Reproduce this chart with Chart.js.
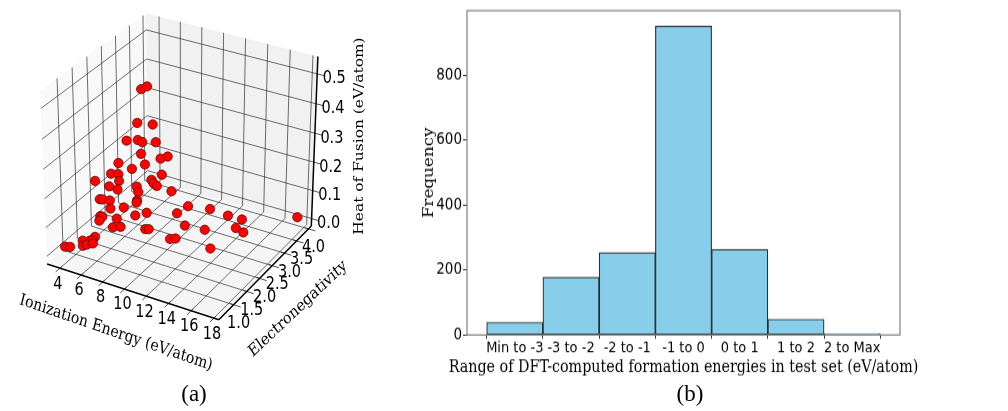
<!DOCTYPE html>
<html>
<head>
<meta charset="utf-8">
<script src="https://cdn.jsdelivr.net/npm/chart.js@4.4.1/dist/chart.umd.min.js"></script>
<style>
  body { margin: 0; background: #fff; width: 1008px; height: 411px; overflow: hidden; position: relative; }
  #scatter3d { position: absolute; left: 0; top: 0; }
  /* the reference figure is a little taller than it is wide, so the histogram is drawn flat and stretched */
  #hist { position: absolute; left: 400px; top: 0; transform: scaleY(1.17); transform-origin: 0 0; }
  .cap { position: absolute; font-family: "Liberation Serif"; font-size: 23px; line-height: 1; transform: translateX(-50%); color: #000; }
</style>
</head>
<body>
<canvas id="scatter3d" width="380" height="411"></canvas>
<canvas id="hist" width="560" height="329"></canvas>
<div class="cap" style="left:194px; top:382px">(a)</div>
<div class="cap" style="left:690px; top:382px">(b)</div>
<script>
// (a) element properties, one entry per element
const ionizationEnergy = [7.77, 8.45, 6.51, 8.45, 6.52, 7.48, 7.21, 8.15, 7.37, 8.95,
  8.39, 6.34, 7.31, 6.77, 8.37, 6.47, 6.53, 5.73, 7.83, 6.64,
  5.68, 6.65, 7.80, 8.00, 6.26, 6.74, 8.99, 5.36, 5.57, 5.92,
  6.87, 6.77, 5.67, 6.74, 9.78, 11.76, 5.35, 5.54, 7.02, 7.61,
  9.33, 12.89, 13.55, 17.42, 5.41, 6.22, 5.17, 5.48, 5.42, 5.56,
  5.73, 6.22, 7.90, 8.14, 9.97, 11.90, 13.75, 14.60, 10.39, 10.31,
  4.89, 5.30, 3.73, 4.09, 13.48, 5.62];
const electronegativity = [1.98, 1.92, 2.31, 2.11, 1.92, 1.95, 2.21, 2.33, 2.10, 2.45,
  2.41, 1.69, 2.26, 2.00, 2.46, 1.38, 1.61, 1.10, 2.29, 1.59,
  1.60, 2.21, 2.38, 2.42, 1.67, 2.23, 2.57, 1.38, 1.40, 1.52,
  2.13, 2.15, 1.63, 1.70, 2.88, 2.91, 1.39, 1.39, 2.00, 2.19,
  2.64, 3.14, 3.42, 3.98, 1.33, 1.64, 0.83, 1.14, 0.98, 1.01,
  1.68, 1.77, 2.02, 2.05, 2.68, 2.65, 3.09, 3.02, 1.95, 2.19,
  0.93, 0.92, 0.74, 0.78, 2.21, 1.01];
const heatOfFusion = [0.50, 0.52, 0.35, 0.38, 0.32, 0.33, 0.30, 0.30, 0.27, 0.25,
  0.24, 0.26, 0.22, 0.22, 0.18, 0.25, 0.23, 0.24, 0.17, 0.21,
  0.18, 0.14, 0.15, 0.14, 0.17, 0.12, 0.12, 0.15, 0.15, 0.14,
  0.10, 0.09, 0.10, 0.11, 0.05, 0.06, 0.09, 0.09, 0.06, 0.06,
  0.04, 0.03, 0.00, 0.005, 0.08, 0.07, 0.05, 0.04, 0.04, 0.04,
  0.03, 0.03, 0.02, 0.02, 0.00, 0.01, 0.00, 0.00, 0.02, 0.00,
  0.02, 0.03, 0.02, 0.02, 0.00, 0.03];
const ieTicks = [4, 6, 8, 10, 12, 14, 16, 18];
const enTicks = [1.0, 1.5, 2.0, 2.5, 3.0, 3.5, 4.0];
const hofTicks = [0.0, 0.1, 0.2, 0.3, 0.4, 0.5];

// (b) histogram of formation energies
const energyRanges = ['Min to -3', '-3 to -2', '-2 to -1', '-1 to 0', '0 to 1', '1 to 2', '2 to Max'];
const frequency = [39, 178, 254, 952, 264, 49, 4];
const freqTicks = [0, 200, 400, 600, 800];

// 3d view like matplotlib's default (elev 30, azim -60, dist 10)
const ieLim = [2.78, 18.43], enLim = [0.45, 4.12], hofLim = [-0.027, 0.557];
const elev = 30, azim = -60, dist = 10;
const view = { cx: 181, cy: 160, sx: 2040, sy: 2030 };
const STRETCH = 1.17; // vertical stretch of the text in the reference

function project(x, y, z) {
  const q = [
    (x - ieLim[0]) / (ieLim[1] - ieLim[0]) - 0.5,
    (y - enLim[0]) / (enLim[1] - enLim[0]) - 0.5,
    (z - hofLim[0]) / (hofLim[1] - hofLim[0]) - 0.5
  ];
  const e = elev * Math.PI / 180, a = azim * Math.PI / 180;
  const n = [Math.cos(e) * Math.cos(a), Math.cos(e) * Math.sin(a), Math.sin(e)];
  const un = Math.hypot(n[0], n[1]);
  const u = [-n[1] / un, n[0] / un, 0];
  const v = [n[1] * u[2] - n[2] * u[1], n[2] * u[0] - n[0] * u[2], n[0] * u[1] - n[1] * u[0]];
  const dot = (p, r) => p[0] * r[0] + p[1] * r[1] + p[2] * r[2];
  const w = dist - dot(n, q);
  return { x: dot(u, q) / w, y: dot(v, q) / w };
}

// text drawn with the same vertical stretch; deg is the angle seen on screen
function stretchedText(ctx, text, x, y, deg) {
  const r = deg * Math.PI / 180;
  const a = Math.atan2(Math.sin(r), Math.cos(r) * STRETCH);
  ctx.save();
  ctx.translate(x, y);
  ctx.scale(1, STRETCH);
  ctx.rotate(a);
  ctx.fillText(text, 0, 0);
  ctx.restore();
}

const axes3d = {
  id: 'axes3d',
  beforeDatasetsDraw(chart) {
    const ctx = chart.ctx;
    const P = (x, y, z) => {
      const p = project(x, y, z);
      return [chart.scales.x.getPixelForValue(p.x), chart.scales.y.getPixelForValue(p.y)];
    };
    const [x0, x1] = ieLim, [y0, y1] = enLim, [z0, z1] = hofLim;
    const xr = x1 - x0, yr = y1 - y0;

    ctx.save();
    const pane = (pts, fill) => {
      ctx.beginPath();
      pts.forEach((p, i) => { const s = P(...p); i ? ctx.lineTo(...s) : ctx.moveTo(...s); });
      ctx.closePath();
      ctx.fillStyle = fill;
      ctx.fill();
    };
    pane([[x0, y0, z0], [x1, y0, z0], [x1, y1, z0], [x0, y1, z0]], '#f5f5f5');
    pane([[x0, y0, z0], [x0, y1, z0], [x0, y1, z1], [x0, y0, z1]], '#f9f9f9');
    pane([[x0, y1, z0], [x1, y1, z0], [x1, y1, z1], [x0, y1, z1]], '#f1f1f1');

    const seg = (a, b) => { ctx.moveTo(...P(...a)); ctx.lineTo(...P(...b)); };

    // grid
    ctx.beginPath();
    ieTicks.forEach(t => { seg([t, y0, z0], [t, y1, z0]); seg([t, y1, z0], [t, y1, z1]); });
    enTicks.forEach(t => { seg([x0, t, z0], [x1, t, z0]); seg([x0, t, z0], [x0, t, z1]); });
    hofTicks.forEach(t => { seg([x0, y0, t], [x0, y1, t]); seg([x0, y1, t], [x1, y1, t]); });
    ctx.strokeStyle = 'rgba(40,40,40,0.85)';
    ctx.lineWidth = 0.8;
    ctx.stroke();

    // tick marks
    ctx.beginPath();
    ieTicks.forEach(t => seg([t, y0 + 0.02 * yr, z0], [t, y0 - 0.04 * yr, z0]));
    enTicks.forEach(t => seg([x1 - 0.02 * xr, t, z0], [x1 + 0.04 * xr, t, z0]));
    hofTicks.forEach(t => seg([x1, y1, t], [x1 + 0.04 * xr, y1, t]));
    ctx.strokeStyle = '#222';
    ctx.lineWidth = 0.8;
    ctx.stroke();

    // axis lines
    ctx.beginPath();
    seg([x0, y0, z0], [x1, y0, z0]);
    seg([x1, y0, z0], [x1, y1, z0]);
    seg([x1, y1, z0], [x1, y1, z1]);
    ctx.strokeStyle = '#000';
    ctx.lineWidth = 1.5;
    ctx.stroke();

    // tick labels
    ctx.fillStyle = '#000';
    ctx.font = '14.5px "DejaVu Sans"';
    ctx.textAlign = 'center';
    ctx.textBaseline = 'middle';
    ieTicks.forEach(t => { const [px, py] = P(t, y0, z0); stretchedText(ctx, String(t), px - 2, py + 16, 0); });
    enTicks.forEach(t => { const [px, py] = P(x1, t, z0); stretchedText(ctx, t.toFixed(1), px + 5, py + 19, 0); });
    hofTicks.forEach(t => { const [px, py] = P(x1, y1, t); stretchedText(ctx, t.toFixed(1), px + 17, py + 5, 0); });

    // axis titles
    ctx.font = '14px "DejaVu Serif"';
    stretchedText(ctx, 'Ionization Energy (eV/atom)', 116, 333, 19);
    stretchedText(ctx, 'Electronegativity', 298, 309, -43.5);
    ctx.font = '13.2px "DejaVu Serif"';
    stretchedText(ctx, 'Heat of Fusion (eV/atom)', 360, 136, -90);
    ctx.restore();
  }
};

const c3 = document.getElementById('scatter3d');
new Chart(c3, {
  type: 'scatter',
  data: {
    datasets: [{
      data: ionizationEnergy.map((ie, i) => project(ie, electronegativity[i], heatOfFusion[i])),
      pointRadius: 4.7,
      backgroundColor: '#ff0000',
      borderColor: 'rgba(60,0,0,0.9)',
      borderWidth: 0.7
    }]
  },
  options: {
    responsive: false,
    animation: false,
    events: [],
    layout: { padding: 0 },
    plugins: { legend: { display: false }, tooltip: { enabled: false } },
    scales: {
      x: { type: 'linear', display: false, min: -view.cx / view.sx, max: (c3.width - view.cx) / view.sx },
      y: { type: 'linear', display: false, min: (view.cy - c3.height) / view.sy, max: view.cy / view.sy }
    }
  },
  plugins: [axes3d]
});

// frame around the histogram axes (matplotlib spines) and the x title,
// which is wider than the axes and would be squeezed by the scale title
const spines = {
  id: 'spines',
  afterDraw(chart) {
    const { left, top, right, bottom } = chart.chartArea;
    const ctx = chart.ctx;
    ctx.save();
    ctx.strokeStyle = '#808080';
    ctx.lineWidth = 1.2;
    ctx.strokeRect(left, top, right - left, bottom - top);
    ctx.fillStyle = '#000';
    ctx.font = '14.3px "DejaVu Serif"';
    ctx.textAlign = 'center';
    ctx.textBaseline = 'middle';
    ctx.fillText('Range of DFT-computed formation energies in test set (eV/atom)', (left + right) / 2, bottom + 27.5);
    ctx.restore();
  }
};

new Chart(document.getElementById('hist'), {
  type: 'bar',
  data: {
    datasets: [{
      data: frequency.map((v, i) => ({ x: i, y: v })),
      backgroundColor: '#87ceeb',
      borderColor: 'rgba(25,25,25,0.9)',
      borderWidth: 1.2,
      borderSkipped: false,
      barPercentage: 1,
      categoryPercentage: 1
    }]
  },
  options: {
    responsive: false,
    animation: false,
    events: [],
    layout: { padding: { top: 6, right: 60, left: 0, bottom: 0 } },
    plugins: { legend: { display: false }, tooltip: { enabled: false } },
    scales: {
      x: {
        type: 'linear',
        min: -0.85,
        max: 6.85,
        offset: false,
        grid: { drawOnChartArea: false, tickLength: 3.2, color: '#333' },
        border: { display: false },
        ticks: {
          stepSize: 1,
          includeBounds: false,
          autoSkip: false,
          maxRotation: 0,
          padding: 0,
          color: '#000',
          font: { family: 'DejaVu Sans', size: 13 },
          callback: v => Number.isInteger(v) ? energyRanges[v] : ''
        },
        afterFit: s => { s.height = 42.7; }
      },
      y: {
        min: 0,
        max: 999.6,
        grid: { drawOnChartArea: false, tickLength: 4, color: '#333' },
        border: { display: false },
        afterBuildTicks: s => { s.ticks = freqTicks.map(v => ({ value: v })); },
        ticks: {
          padding: 1,
          color: '#000',
          font: { family: 'DejaVu Sans', size: 13.5 }
        },
        title: {
          display: true,
          text: 'Frequency',
          color: '#000',
          font: { family: 'DejaVu Serif', size: 14.3 },
          padding: { top: 21, bottom: 0 }
        },
        afterFit: s => { s.width = 67; }
      }
    }
  },
  plugins: [spines]
});
</script>
</body>
</html>
